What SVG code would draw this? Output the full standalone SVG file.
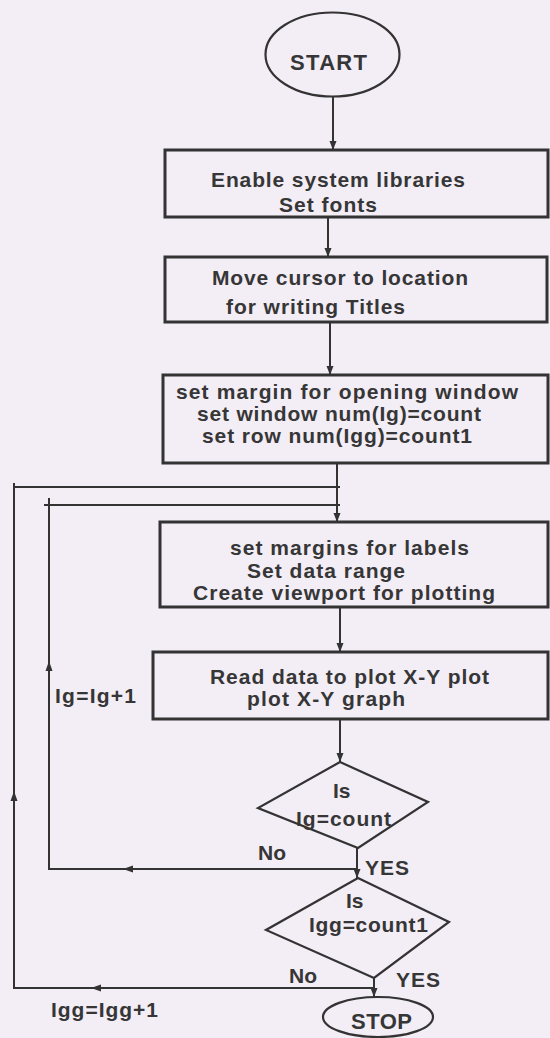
<svg xmlns="http://www.w3.org/2000/svg" width="550" height="1038" viewBox="0 0 550 1038">
<defs>
<style>
.bg{fill:#f3edf6}
.box{fill:none;stroke:#333;stroke-width:3}
.shape{fill:none;stroke:#333;stroke-width:2.2}
.line{fill:none;stroke:#333;stroke-width:2}
.t{font-family:"Liberation Sans",Arial,sans-serif;font-weight:bold;font-size:21px;fill:#363636}
.big{font-size:22px}
</style>
<marker id="ad" markerWidth="10" markerHeight="10" refX="9" refY="5" orient="auto" markerUnits="userSpaceOnUse">
<path d="M0,1.5 L9,5 L0,8.5 Z" fill="#333"/>
</marker>
<marker id="am" markerWidth="12" markerHeight="10" refX="5" refY="5" orient="auto" markerUnits="userSpaceOnUse">
<path d="M0,1.5 L10,5 L0,8.5 Z" fill="#333"/>
</marker>
</defs>
<rect class="bg" x="0" y="0" width="550" height="1038"/>

<g id="connectors">
<line class="line" x1="333" y1="97" x2="333" y2="150" marker-end="url(#ad)"/>
<line class="line" x1="328" y1="217" x2="328" y2="257" marker-end="url(#ad)"/>
<line class="line" x1="330" y1="322" x2="330" y2="375" marker-end="url(#ad)"/>
<line class="line" x1="337" y1="463" x2="337" y2="522" marker-end="url(#ad)"/>
<line class="line" x1="340" y1="607" x2="340" y2="652" marker-end="url(#ad)"/>
<line class="line" x1="340" y1="719" x2="340" y2="762" marker-end="url(#ad)"/>
<line class="line" x1="357" y1="848" x2="357" y2="878" marker-end="url(#ad)"/>
<line class="line" x1="374" y1="978" x2="374" y2="997" marker-end="url(#ad)"/>
<path class="line" d="M357,869 L49,869 L49,498"/>
<path class="line" d="M250,869 L128,869" marker-end="url(#am)"/>
<path class="line" d="M49,760 L49,666" marker-end="url(#am)"/>
<line class="line" x1="44" y1="505" x2="340" y2="505"/>
<path class="line" d="M374,988 L14,988 L14,483"/>
<path class="line" d="M200,988 L96,988" marker-end="url(#am)"/>
<path class="line" d="M14,900 L14,796" marker-end="url(#am)"/>
<line class="line" x1="14" y1="487" x2="340" y2="487"/>
</g>

<g id="start">
<ellipse class="shape" cx="332.5" cy="54.5" rx="67" ry="42"/>
<text class="t big" x="290" y="70" textLength="77">START</text>
</g>

<g id="box1">
<rect class="box" x="165" y="150" width="383" height="67"/>
<text class="t" x="211" y="187" textLength="254">Enable system libraries</text>
<text class="t" x="279" y="212" textLength="98">Set fonts</text>
</g>

<g id="box2">
<rect class="box" x="165" y="257" width="382" height="65"/>
<text class="t" x="212" y="285" textLength="256">Move cursor to location</text>
<text class="t" x="226" y="314" textLength="179">for writing Titles</text>
</g>

<g id="box3">
<rect class="box" x="163" y="375" width="385" height="88"/>
<text class="t" x="176" y="399" textLength="342">set margin for opening window</text>
<text class="t" x="197" y="421" textLength="284">set window num(Ig)=count</text>
<text class="t" x="202" y="443" textLength="270">set row num(Igg)=count1</text>
</g>

<g id="box4">
<rect class="box" x="160" y="522" width="388" height="85"/>
<text class="t" x="230" y="555" textLength="239">set margins for labels</text>
<text class="t" x="247" y="578" textLength="158">Set data range</text>
<text class="t" x="193" y="600" textLength="302">Create viewport for plotting</text>
</g>

<g id="box5">
<rect class="box" x="153" y="652" width="395" height="67"/>
<text class="t" x="210" y="684" textLength="279">Read data to plot X-Y plot</text>
<text class="t" x="247" y="706" textLength="158">plot X-Y graph</text>
</g>

<g id="label-ig">
<text class="t" x="55" y="703" textLength="81">Ig=Ig+1</text>
</g>

<g id="decision1">
<polygon class="shape" points="340,762 428,802 358,848 258,808"/>
<text class="t" x="333" y="798">Is</text>
<text class="t" x="296" y="826" textLength="95">Ig=count</text>
<text class="t" x="258" y="860">No</text>
<text class="t" x="365" y="875" textLength="44">YES</text>
</g>

<g id="decision2">
<polygon class="shape" points="358,878 449,922 374,978 266,930"/>
<text class="t" x="346" y="908">Is</text>
<text class="t" x="309" y="932" textLength="119">Igg=count1</text>
<text class="t" x="289" y="983">No</text>
<text class="t" x="396" y="987" textLength="44">YES</text>
</g>

<g id="label-igg">
<text class="t" x="51" y="1017" textLength="107">Igg=Igg+1</text>
</g>

<g id="stop">
<ellipse class="shape" cx="378" cy="1017" rx="55" ry="20"/>
<text class="t big" x="351" y="1029" textLength="61">STOP</text>
</g>
</svg>
